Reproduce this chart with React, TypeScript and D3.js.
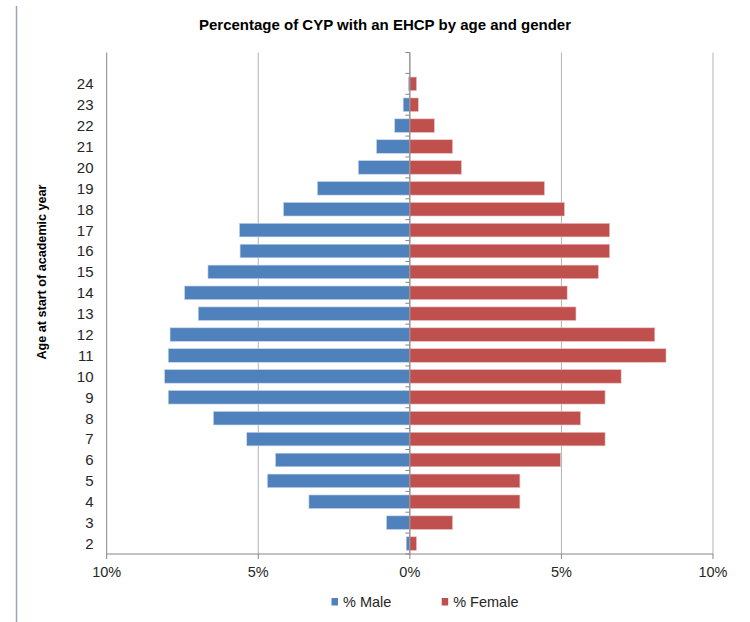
import React from "react";
import * as d3 from "d3";

const ages = ["2","3","4","5","6","7","8","9","10","11","12","13","14","15","16","17","18","19","20","21","22","23","24","25"];
const ageLabels = ["2","3","4","5","6","7","8","9","10","11","12","13","14","15","16","17","18","19","20","21","22","23","24",""];
const male = [0.12,0.77,3.33,4.7,4.43,5.38,6.48,7.97,8.09,7.97,7.91,6.98,7.43,6.66,5.6,5.62,4.17,3.05,1.7,1.1,0.5,0.22,0.05,null];
const female = [0.22,1.41,3.63,3.63,4.97,6.44,5.63,6.44,6.97,8.45,8.08,5.48,5.19,6.22,6.59,6.59,5.1,4.44,1.7,1.41,0.81,0.28,0.22,null];
const xTicks = [-10,-5,0,5,10];
const xTickLabels = ["10%","5%","0%","5%","10%"];
const seriesNames = ["% Male","% Female"];
const colors = ["#4F81BD","#C0504D"];

const W = 750, H = 622;
const left = 106.7, right = 713, top = 52.5, bottom = 554;
const font = "'Liberation Sans', Arial, sans-serif";

export default function App() {
  const x = d3.scaleLinear().domain([-10, 10]).range([left, right]);
  const y = d3.scaleBand<string>().domain([...ages].reverse()).range([top, bottom]).paddingInner(0.35).paddingOuter(0.175);
  const bandStep = y.step();
  const x0 = x(0);
  return (
    <svg width={W} height={H} style={{ position: "absolute", left: 0, top: 0, background: "#fff" }}>
      <line x1={16.5} x2={16.5} y1={6} y2={H} stroke="#9aa3b5" strokeWidth={1.5} />
      <text x={385} y={30} textAnchor="middle" fontFamily={font} fontSize={15} fontWeight="bold" fill="#000">
        Percentage of CYP with an EHCP by age and gender
      </text>
      {xTicks.map((t) => (
        <line key={"g" + t} x1={x(t)} x2={x(t)} y1={top} y2={bottom} stroke={t === -10 ? "#868686" : "#b3b3b3"} strokeWidth={1} />
      ))}
      {ages.map((a, i) => (
        <g key={a}>
          {male[i] != null && (
            <rect x={x(-(male[i] as number))} y={y(a)} width={x0 - x(-(male[i] as number))} height={y.bandwidth()}
              fill={colors[0]} stroke="#c9d6ea" strokeWidth={0.6} />
          )}
          {female[i] != null && (
            <rect x={x0} y={y(a)} width={x(female[i] as number) - x0} height={y.bandwidth()}
              fill={colors[1]} stroke="#e8c4c3" strokeWidth={0.6} />
          )}
          <text x={93.5} y={(y(a) as number) + y.bandwidth() / 2} dy="0.36em" textAnchor="end" fontFamily={font} fontSize={15} fill="#262626">
            {ageLabels[i]}
          </text>
        </g>
      ))}
      <line x1={x0} x2={x0} y1={top} y2={bottom} stroke="#868686" strokeWidth={1} />
      {d3.range(ages.length + 1).map((k) => (
        <line key={"t" + k} x1={x0 - 4.5} x2={x0} y1={top + k * bandStep} y2={top + k * bandStep} stroke="#868686" strokeWidth={1} />
      ))}
      <line x1={left} x2={right} y1={bottom} y2={bottom} stroke="#868686" strokeWidth={1} />
      {xTicks.map((t, i) => (
        <g key={"x" + t}>
          <line x1={x(t)} x2={x(t)} y1={bottom} y2={bottom + 5} stroke="#868686" strokeWidth={1} />
          <text x={x(t)} y={576.5} textAnchor="middle" fontFamily={font} fontSize={14.5} fill="#262626">{xTickLabels[i]}</text>
        </g>
      ))}
      <text transform="translate(46,272) rotate(-90)" textAnchor="middle" fontFamily={font} fontSize={12.6} fontWeight="bold" fill="#000">
        Age at start of academic year
      </text>
      {seriesNames.map((n, i) => {
        const lx = i === 0 ? 331.5 : 441.7;
        return (
          <g key={n}>
            <rect x={lx} y={598} width={6.5} height={7.5} fill={colors[i]} />
            <text x={lx + 11.5} y={606.5} fontFamily={font} fontSize={14.5} fill="#262626">{n}</text>
          </g>
        );
      })}
    </svg>
  );
}
